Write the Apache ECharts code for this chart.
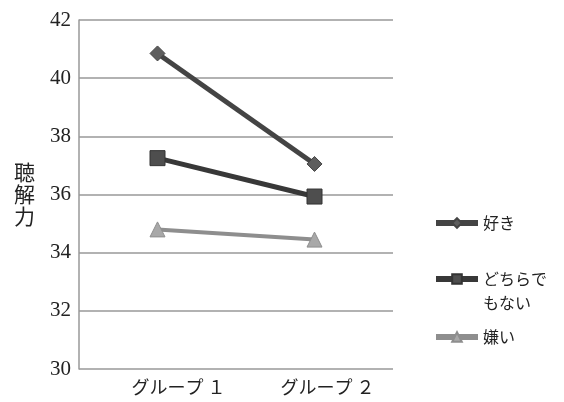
<!DOCTYPE html>
<html><head><meta charset="utf-8">
<script src="https://cdn.jsdelivr.net/npm/echarts@6/dist/echarts.min.js"></script>
<style>html,body{margin:0;padding:0;background:#fff}#c{width:564px;height:402px}</style>
</head><body><div id="c"></div>
<script>
const categories = ['グループ １', 'グループ ２'];
const seriesNames = ['好き', 'どちらでもない', '嫌い'];
const likeValues = [40.85, 37.05];
const neutralValues = [37.25, 35.93];
const dislikeValues = [34.8, 34.45];
const yTicks = [30, 32, 34, 36, 38, 40, 42];

const serif = 'Liberation Serif';
const jp = 'Noto Sans CJK JP';
const labelShift = [42, 26];
const chart = echarts.init(document.getElementById('c'));
function legendAt(name, top, textExtra) {
  return {
    data: [name], orient: 'vertical', left: 428, top: top,
    itemWidth: 42, itemHeight: 12, itemGap: 0,
    lineStyle: { width: 6 },
    textStyle: Object.assign({ fontFamily: jp, fontSize: 16, color: '#222' }, textExtra || {})
  };
}
chart.setOption({
  animation: false,
  grid: { left: 79, right: 171, top: 20, bottom: 33 },
  xAxis: {
    type: 'category', boundaryGap: true,
    data: categories.map((c, i) => ({ value: c, textStyle: { padding: [0, 0, 0, labelShift[i]] } })),
    axisLine: { show: false }, axisTick: { show: false },
    axisLabel: { fontFamily: jp, fontSize: 18, color: '#222', margin: 9 }
  },
  yAxis: {
    type: 'value', min: yTicks[0], max: yTicks[yTicks.length - 1], interval: 2,
    name: '聴\n解\n力', nameLocation: 'middle', nameRotate: 0, nameGap: 44,
    nameTextStyle: { fontFamily: jp, fontSize: 21, color: '#222', lineHeight: 22 },
    axisLine: { show: true, lineStyle: { color: '#999', width: 1.5 } },
    axisTick: { show: false },
    splitLine: { lineStyle: { color: '#999', width: 1.5 } },
    axisLabel: { fontFamily: serif, fontSize: 21, color: '#222', margin: 8 }
  },
  legend: [
    legendAt(seriesNames[0], 210),
    Object.assign(legendAt(seriesNames[1], 238, { lineHeight: 24 }),
      { formatter: () => ' \nどちらで\nもない' }),
    legendAt(seriesNames[2], 324)
  ],
  series: [
    { name: seriesNames[0], type: 'line', data: likeValues, symbol: 'diamond', symbolSize: 15,
      lineStyle: { color: '#444', width: 5 }, itemStyle: { color: '#5e5e5e', borderColor: '#444', borderWidth: 1 } },
    { name: seriesNames[1], type: 'line', data: neutralValues, symbol: 'rect', symbolSize: 15,
      lineStyle: { color: '#383838', width: 5 }, itemStyle: { color: '#4e4e4e', borderColor: '#333', borderWidth: 1 } },
    { name: seriesNames[2], type: 'line', data: dislikeValues, symbol: 'triangle', symbolSize: 15,
      lineStyle: { color: '#8e8e8e', width: 4 }, itemStyle: { color: '#a8a8a8', borderColor: '#8e8e8e', borderWidth: 1 } }
  ]
});
</script></body></html>
